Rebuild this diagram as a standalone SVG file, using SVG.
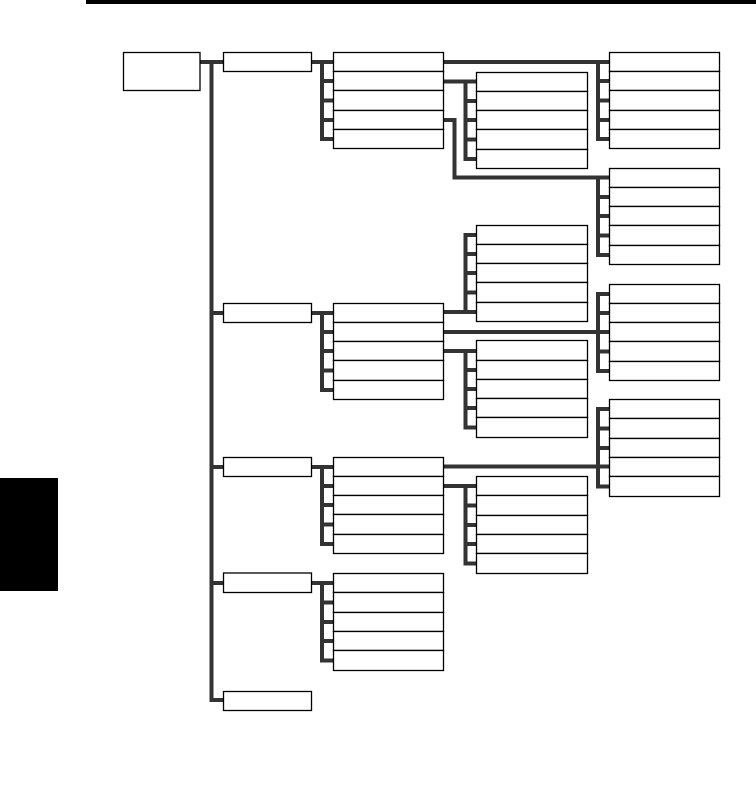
<svg xmlns="http://www.w3.org/2000/svg" width="756" height="787" viewBox="0 0 756 787">
<style>
.box{fill:#fff;stroke:#000;stroke-width:1.3}
.conn{fill:none;stroke:#333;stroke-width:4;stroke-linecap:square;stroke-linejoin:miter}
.blk{fill:#000}
</style>
<rect class="blk" x="86" y="0" width="670" height="4"/>
<rect class="blk" x="0" y="478" width="58" height="113"/>
<g id="connectors" class="conn">
<path d="M200,62 H223 M211.5,62 V700 H223 M211.5,313 H223 M211.5,467 H223 M211.5,583 H223"/>
<path d="M311.5,62 H333 M322,62 V139 M322,81 H333 M322,100.5 H333 M322,120 H333 M322,139 H333"/>
<path d="M311.5,313 H333 M322,313 V390 M322,332 H333 M322,351 H333 M322,370.5 H333 M322,390 H333"/>
<path d="M311.5,467 H333 M322,467 V544 M322,486 H333 M322,505 H333 M322,524.5 H333 M322,544 H333"/>
<path d="M311.5,583 H333 M322,583 V660.5 M322,602.5 H333 M322,622 H333 M322,641 H333 M322,660.5 H333"/>
<path d="M443.5,62 H609 M598,62 V139 M598,81 H609 M598,100.5 H609 M598,120 H609 M598,139 H609"/>
<path d="M443.5,81.5 H476 M465.5,81.5 V159 M465.5,101 H476 M465.5,120 H476 M465.5,139.5 H476 M465.5,159 H476"/>
<path d="M443.5,120 H454.5 V177.5 H609 M598,178 V255 M598,197 H609 M598,216 H609 M598,235.5 H609 M598,255 H609"/>
<path d="M443.5,312 H476 M465.5,235 V312 M465.5,235 H476 M465.5,254 H476 M465.5,273 H476 M465.5,292.5 H476"/>
<path d="M443.5,332 H609 M598,294 V371 M598,294 H609 M598,313 H609 M598,351.5 H609 M598,371 H609"/>
<path d="M443.5,351 H476 M465.5,351 V427.5 M465.5,370 H476 M465.5,389 H476 M465.5,408 H476 M465.5,427.5 H476"/>
<path d="M443.5,466.5 H609 M598,409 V486.5 M598,409 H609 M598,428.5 H609 M598,448 H609 M598,486.5 H609"/>
<path d="M443.5,486 H476 M465.5,486 V563.5 M465.5,505.5 H476 M465.5,525 H476 M465.5,544 H476 M465.5,563.5 H476"/>
</g>
<g id="root"><rect class="box" x="123.5" y="52.5" width="76.5" height="38"/></g>
<g id="l1-a"><rect class="box" x="223.5" y="52.5" width="88" height="19"/></g>
<g id="l1-b"><rect class="box" x="223.5" y="303.5" width="88" height="19"/></g>
<g id="l1-c"><rect class="box" x="223.5" y="457.5" width="88" height="19"/></g>
<g id="l1-d"><rect class="box" x="223.5" y="573" width="88" height="19.5"/></g>
<g id="l1-e"><rect class="box" x="223.5" y="691.5" width="88" height="19"/></g>
<g id="a-1"><rect class="box" x="333.5" y="52.5" width="110" height="19"/></g>
<g id="a-2"><rect class="box" x="333.5" y="71.5" width="110" height="19"/></g>
<g id="a-3"><rect class="box" x="333.5" y="90.5" width="110" height="20"/></g>
<g id="a-4"><rect class="box" x="333.5" y="110.5" width="110" height="19"/></g>
<g id="a-5"><rect class="box" x="333.5" y="129.5" width="110" height="19"/></g>
<g id="b-1"><rect class="box" x="333.5" y="303.5" width="110" height="19"/></g>
<g id="b-2"><rect class="box" x="333.5" y="322.5" width="110" height="19"/></g>
<g id="b-3"><rect class="box" x="333.5" y="341.5" width="110" height="19"/></g>
<g id="b-4"><rect class="box" x="333.5" y="360.5" width="110" height="20"/></g>
<g id="b-5"><rect class="box" x="333.5" y="380.5" width="110" height="19"/></g>
<g id="c-1"><rect class="box" x="333.5" y="457.5" width="110" height="19"/></g>
<g id="c-2"><rect class="box" x="333.5" y="476.5" width="110" height="19"/></g>
<g id="c-3"><rect class="box" x="333.5" y="495.5" width="110" height="19"/></g>
<g id="c-4"><rect class="box" x="333.5" y="514.5" width="110" height="20"/></g>
<g id="c-5"><rect class="box" x="333.5" y="534.5" width="110" height="19"/></g>
<g id="d-1"><rect class="box" x="333.5" y="573.5" width="110" height="19"/></g>
<g id="d-2"><rect class="box" x="333.5" y="592.5" width="110" height="20"/></g>
<g id="d-3"><rect class="box" x="333.5" y="612.5" width="110" height="19"/></g>
<g id="d-4"><rect class="box" x="333.5" y="631.5" width="110" height="19"/></g>
<g id="d-5"><rect class="box" x="333.5" y="650.5" width="110" height="20"/></g>
<g id="m1-1"><rect class="box" x="476.5" y="72.5" width="111" height="19"/></g>
<g id="m1-2"><rect class="box" x="476.5" y="91.5" width="111" height="19"/></g>
<g id="m1-3"><rect class="box" x="476.5" y="110.5" width="111" height="19"/></g>
<g id="m1-4"><rect class="box" x="476.5" y="129.5" width="111" height="20"/></g>
<g id="m1-5"><rect class="box" x="476.5" y="149.5" width="111" height="19"/></g>
<g id="m2-1"><rect class="box" x="476.5" y="225.5" width="111" height="19"/></g>
<g id="m2-2"><rect class="box" x="476.5" y="244.5" width="111" height="19"/></g>
<g id="m2-3"><rect class="box" x="476.5" y="263.5" width="111" height="19"/></g>
<g id="m2-4"><rect class="box" x="476.5" y="282.5" width="111" height="20"/></g>
<g id="m2-5"><rect class="box" x="476.5" y="302.5" width="111" height="19"/></g>
<g id="m3-1"><rect class="box" x="476.5" y="340.5" width="111" height="20"/></g>
<g id="m3-2"><rect class="box" x="476.5" y="360.5" width="111" height="19"/></g>
<g id="m3-3"><rect class="box" x="476.5" y="379.5" width="111" height="19"/></g>
<g id="m3-4"><rect class="box" x="476.5" y="398.5" width="111" height="19"/></g>
<g id="m3-5"><rect class="box" x="476.5" y="417.5" width="111" height="20"/></g>
<g id="m4-1"><rect class="box" x="476.5" y="476.5" width="111" height="19"/></g>
<g id="m4-2"><rect class="box" x="476.5" y="495.5" width="111" height="20"/></g>
<g id="m4-3"><rect class="box" x="476.5" y="515.5" width="111" height="19"/></g>
<g id="m4-4"><rect class="box" x="476.5" y="534.5" width="111" height="19"/></g>
<g id="m4-5"><rect class="box" x="476.5" y="553.5" width="111" height="20"/></g>
<g id="r1-1"><rect class="box" x="609.5" y="52.5" width="110" height="19"/></g>
<g id="r1-2"><rect class="box" x="609.5" y="71.5" width="110" height="19"/></g>
<g id="r1-3"><rect class="box" x="609.5" y="90.5" width="110" height="20"/></g>
<g id="r1-4"><rect class="box" x="609.5" y="110.5" width="110" height="19"/></g>
<g id="r1-5"><rect class="box" x="609.5" y="129.5" width="110" height="19"/></g>
<g id="r2-1"><rect class="box" x="609.5" y="168.5" width="110" height="19"/></g>
<g id="r2-2"><rect class="box" x="609.5" y="187.5" width="110" height="19"/></g>
<g id="r2-3"><rect class="box" x="609.5" y="206.5" width="110" height="19"/></g>
<g id="r2-4"><rect class="box" x="609.5" y="225.5" width="110" height="20"/></g>
<g id="r2-5"><rect class="box" x="609.5" y="245.5" width="110" height="19"/></g>
<g id="r3-1"><rect class="box" x="609.5" y="284.5" width="110" height="19"/></g>
<g id="r3-2"><rect class="box" x="609.5" y="303.5" width="110" height="19"/></g>
<g id="r3-3"><rect class="box" x="609.5" y="322.5" width="110" height="19"/></g>
<g id="r3-4"><rect class="box" x="609.5" y="341.5" width="110" height="20"/></g>
<g id="r3-5"><rect class="box" x="609.5" y="361.5" width="110" height="19"/></g>
<g id="r4-1"><rect class="box" x="609.5" y="399.5" width="110" height="19"/></g>
<g id="r4-2"><rect class="box" x="609.5" y="418.5" width="110" height="20"/></g>
<g id="r4-3"><rect class="box" x="609.5" y="438.5" width="110" height="19"/></g>
<g id="r4-4"><rect class="box" x="609.5" y="457.5" width="110" height="19"/></g>
<g id="r4-5"><rect class="box" x="609.5" y="476.5" width="110" height="20"/></g>
</svg>
